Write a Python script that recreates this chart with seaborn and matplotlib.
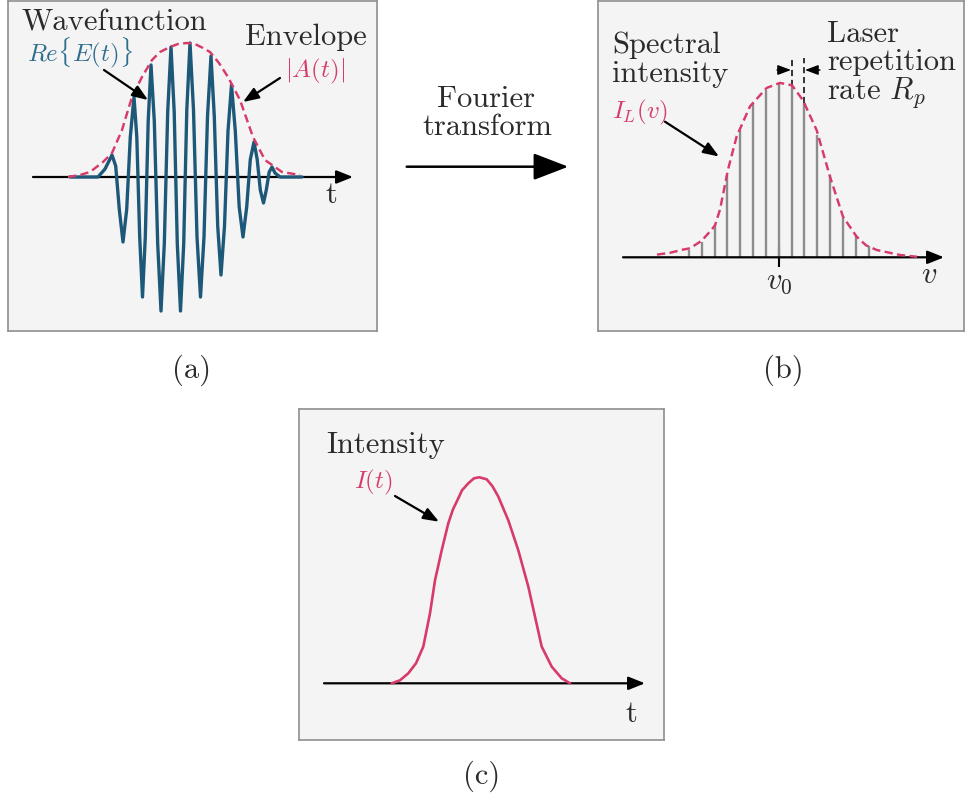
import matplotlib
matplotlib.use("Agg")
import matplotlib.pyplot as plt
from matplotlib.patches import ArrowStyle, FancyArrowPatch
import seaborn as sns

sns.set_style("white")
plt.rcParams["font.family"] = ["cmr10", "DejaVu Serif"]
plt.rcParams["mathtext.fontset"] = "cm"
plt.rcParams["axes.unicode_minus"] = False

# ---------------- data (x in px, height above axis in px) -------------
# panel (a): envelope |A(t)|
env_x = [68, 80, 90, 103, 112, 122, 132, 142, 152, 160, 170, 178, 187, 195, 203, 210, 219, 228,
         240, 253, 265, 282, 300]
env_h = [0, 2, 5, 15, 24, 47, 80, 100, 117, 125, 130, 133, 134, 133, 129, 125, 114, 100,
         77, 40, 17, 5, 2]
# panel (a): Re{E(t)} – points read along the oscillation (extrema and half-height points)
wave_x = [70, 98, 105, 112, 115.7, 119.3, 123, 126.7, 130.3, 134, 136.8, 139.7, 142.5,
          145.3, 148.2, 151, 154.3, 157.7, 161, 164.3, 167.7, 171, 174.2, 177.3, 180.5,
          183.7, 186.8, 190, 193.5, 197, 200.5, 204, 207.5, 211, 214.3, 217.7, 221,
          224.5, 228, 231.5, 235.3, 239.2, 243, 246.7, 250.3, 254, 257.2, 260.3, 263.5,
          266.3, 269.2, 272, 275, 280, 302]
wave_h = [0, 0, 8, 22, 11, -32.5, -65, -32.5, 40, 80, 40, -60, -120,
          -60, 56, 112, 56, -67, -134, -67, 65, 130, 65, -67, -134,
          -67, 67, 134, 67, -60, -120, -60, 60.5, 121, 60.5, -49, -98,
          -49, 46, 92, 46, -30, -60, -30, 17.5, 35, 17.5, -13, -26,
          -13, 5, 10, 4, 0, 0]
# panel (b): spectral envelope I_L(v)
spec_x = [657, 670, 683, 690, 701.7, 711.7, 715, 720, 728, 736.7, 750, 766.7, 780, 792, 803,
          816.7, 830, 843, 856.7, 866, 876.7, 900, 917]
spec_h = [2.7, 4.5, 7.7, 9, 16.6, 27.7, 32, 47.7, 87.7, 121, 151, 169.4, 174.4, 172, 157,
          127, 80.6, 40.6, 20.6, 12, 7.3, 2.3, 0.5]
# panel (b): comb lines (laser modes)
comb_x = [689.3, 702, 714.7, 727.3, 740, 753.3, 766, 779.3, 792, 804, 817.3, 830, 842.7, 855.7, 869]
comb_h = [7, 15.7, 32, 82, 127, 154, 167, 174, 171, 154, 122.7, 82.7, 39.4, 22.7, 11.7]
v0_x = 779.3
rep_x = [792, 804]          # comb lines marking the repetition rate
rep_top = 199
# panel (c): intensity I(t)
int_x = [391.7, 400, 408.3, 416, 423.3, 430, 435, 441.7, 448.3, 453, 458.3, 462, 468.3, 474,
         479.3, 486.7, 492.5, 498.3, 508.3, 518.3, 528.3, 535, 541.7, 551.7, 561.7, 570]
int_h = [0, 3, 10, 20, 36.7, 70, 103, 133, 160, 174, 185, 193, 200, 205,
         206, 204, 197, 186.7, 163, 133, 96.7, 66.7, 36.7, 16.7, 5, 0]

# ---------------- styles ----------------
W, H = 965, 800
PINK = "#d63b69"
BLUE = "#1d5878"
BLUE_T = "#2f6d8e"
TXT = "#2b2b2b"
FACE = "#f4f4f4"
EDGE = "#8f8f8f"
FS = 22
FSM = 18

fig = plt.figure(figsize=(W / 100, H / 100), dpi=100)


def box_axes(l, t, r, b, base):
    ax = fig.add_axes([l / W, 1 - b / H, (r - l) / W, (b - t) / H])
    ax.set_xlim(l, r)
    ax.set_ylim(base - b, base - t)
    ax.set_facecolor(FACE)
    for s in ax.spines.values():
        s.set_color(EDGE)
        s.set_linewidth(1.2)
    ax.set_xticks([])
    ax.set_yticks([])
    return ax


def axis_arrow(ax, x0, x1):
    ax.annotate("", xy=(x1, 0), xytext=(x0, 0),
                arrowprops=dict(arrowstyle=ArrowStyle("-|>", head_length=1.0, head_width=0.4),
                                mutation_scale=10, lw=1.6, color="black",
                                shrinkA=0, shrinkB=0), zorder=2)


def ftext(x, y, s, **kw):
    kw.setdefault("fontsize", FS)
    kw.setdefault("color", TXT)
    kw.setdefault("ha", "left")
    kw.setdefault("va", "baseline")
    fig.text(x / W, 1 - y / H, s, **kw)


def farrow(x0, y0, x1, y1, hl=0.94, hw=0.36, lw=1.6, ms=10):
    fig.add_artist(FancyArrowPatch(
        (x0 / W, 1 - y0 / H), (x1 / W, 1 - y1 / H), transform=fig.transFigure,
        arrowstyle=ArrowStyle("-|>", head_length=hl, head_width=hw),
        mutation_scale=ms, lw=lw, color="black", shrinkA=0, shrinkB=0, zorder=5))


# ---------------- panel (a) ----------------
ax_a = box_axes(8, 1, 377, 331, 177)
axis_arrow(ax_a, 33, 353)
sns.lineplot(x=wave_x, y=wave_h, ax=ax_a, color=BLUE, linewidth=2.4, sort=False,
             estimator=None, zorder=3)
ax_a.lines[-1].set_solid_joinstyle("round")
sns.lineplot(x=env_x, y=env_h, ax=ax_a, color=PINK, linewidth=1.75, sort=False,
             estimator=None, zorder=4)
ax_a.lines[-1].set_dashes((3.4, 1.8))
ftext(21, 30.5, "Wavefunction")
ftext(27, 61, r"$Re\{E(t)\}$", color=BLUE_T, fontsize=FSM)
ftext(245, 45, "Envelope")
ftext(285, 77, r"$|A(t)|$", color=PINK, fontsize=FSM)
ftext(331, 203, "t", ha="center")
farrow(104, 70, 148, 100)
farrow(280, 78, 243, 102)

# ---------------- Fourier transform arrow ----------------
ftext(486, 106.7, "Fourier", ha="center")
ftext(487, 135, "transform", ha="center")
farrow(406.7, 166.7, 568.3, 166.7, hl=2.16, hw=0.83, lw=1.8)

# ---------------- panel (b) ----------------
ax_b = box_axes(598, 1, 964, 331, 257.3)
ax_b.vlines(comb_x, 0, comb_h, color="#8c8c8c", linewidth=1.7, zorder=2)
axis_arrow(ax_b, 623, 944)
sns.lineplot(x=spec_x, y=spec_h, ax=ax_b, color=PINK, linewidth=1.75, sort=False,
             estimator=None, zorder=4)
ax_b.lines[-1].set_dashes((3.4, 1.8))
ax_b.vlines(rep_x, [comb_h[comb_x.index(v)] for v in rep_x], rep_top, color="black",
            linewidth=1.1, linestyles=(0, (4, 2.5)), zorder=3)
yl = ax_b.get_ylim()
sec = ax_b.secondary_xaxis(-yl[0] / (yl[1] - yl[0]))
sec.spines["bottom"].set_visible(False)
sec.set_xticks([v0_x], labels=[r"$v_0$"])
sec.tick_params(direction="inout", length=14, width=1.5, color="black", pad=1,
                labelsize=FS, labelcolor=TXT)
ftext(612, 53.3, "Spectral")
ftext(612, 82, "intensity")
ftext(612, 118, r"$I_L(v)$", color=PINK, fontsize=FSM)
ftext(827, 41.5, "Laser")
ftext(827, 69.5, "repetition")
ftext(827, 98.5, r"rate $R_p$")
ftext(929, 283, r"$v$", ha="center")
farrow(665, 121.7, 719, 156.5)
farrow(777, 70, 791, 70, hl=0.8, hw=0.3, lw=1.0)
farrow(820, 70, 805, 70, hl=0.8, hw=0.3, lw=1.0)

# ---------------- panel (c) ----------------
ax_c = box_axes(299, 409, 664, 740, 683.3)
axis_arrow(ax_c, 324, 645)
sns.lineplot(x=int_x, y=int_h, ax=ax_c, color=PINK, linewidth=1.9, sort=False,
             estimator=None, zorder=4)
ftext(326, 453, "Intensity")
ftext(354, 488, r"$I(t)$", color=PINK, fontsize=FSM)
ftext(631.7, 721.5, "t", ha="center")
farrow(395, 496, 439, 521.7)

# ---------------- panel labels ----------------
ftext(192, 370, "(a)", ha="center", va="center")
ftext(783.5, 370, "(b)", ha="center", va="center")
ftext(482, 776, "(c)", ha="center", va="center")

fig.savefig("out.png", dpi=100, facecolor="white")
